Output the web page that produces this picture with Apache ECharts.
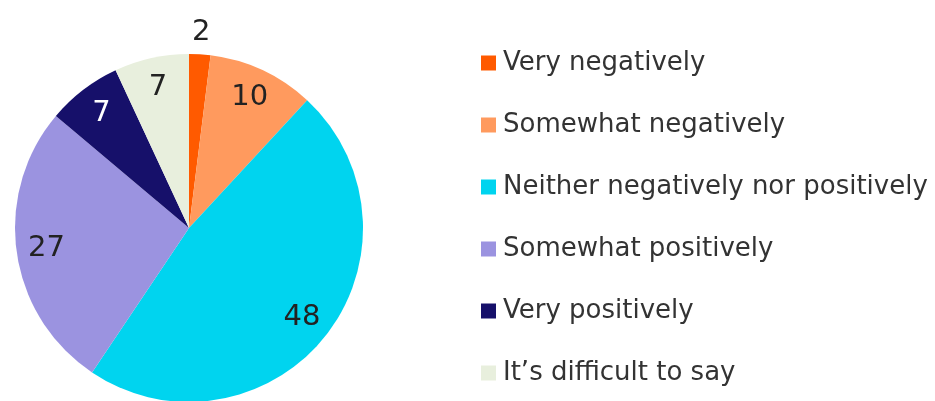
<!DOCTYPE html>
<html>
<head>
<meta charset="utf-8">
<style>html,body{margin:0;padding:0;background:#fff;}#chart{width:935px;height:401px;}</style>
<script src="https://cdn.jsdelivr.net/npm/echarts@6/dist/echarts.min.js"></script>
</head>
<body>
<div id="chart"></div>
<script>
const categories = ["Very negatively", "Somewhat negatively", "Neither negatively nor positively", "Somewhat positively", "Very positively", "It\u2019s difficult to say"];
const values = [2, 10, 48, 27, 7, 7];
const colors = ["#FF5A00", "#FF9A5E", "#00D4EF", "#9B93E0", "#16106A", "#E8EFDD"];
const labelColors = ["#222222", "#222222", "#222222", "#222222", "#FFFFFF", "#222222"];
const outsideLabelIndex = 0;

const FONT = "DejaVu Sans";
const center = [189, 228];
const R = 174;

const mainData = categories.map((name, i) => ({
  name: name,
  value: values[i],
  itemStyle: { color: colors[i] }
}));
const innerLabelData = categories.map((name, i) => ({
  name: name,
  value: values[i],
  label: { show: i !== outsideLabelIndex, color: labelColors[i] }
}));
const outerLabelData = categories.map((name, i) => ({
  name: name,
  value: values[i],
  label: { show: i === outsideLabelIndex, color: labelColors[i] }
}));

const labelSeries = (radius, data) => ({
  type: 'pie',
  center: center,
  radius: radius,
  startAngle: 90,
  clockwise: true,
  silent: true,
  data: data,
  itemStyle: { color: 'rgba(0,0,0,0)', borderWidth: 0 },
  label: { position: 'inner', fontFamily: FONT, fontSize: 29, formatter: '{c}' },
  labelLine: { show: false },
  emphasis: { disabled: true },
  legendHoverLink: false
});

const chart = echarts.init(document.getElementById('chart'), null, { renderer: 'canvas' });
chart.setOption({
  animation: false,
  backgroundColor: '#ffffff',
  legend: {
    type: 'plain',
    orient: 'vertical',
    left: 476,
    top: 45,
    height: 400,
    icon: 'rect',
    itemWidth: 15,
    itemHeight: 15,
    itemGap: 36,
    data: categories,
    textStyle: { fontFamily: FONT, fontSize: 26, color: '#333333', lineHeight: 26, padding: [0, 0, 0, 2] },
    selectedMode: false
  },
  series: [
    {
      type: 'pie',
      name: 'main',
      center: center,
      radius: [0, R],
      startAngle: 90,
      clockwise: true,
      data: mainData,
      label: { show: false },
      labelLine: { show: false },
      itemStyle: { borderWidth: 0 },
      emphasis: { disabled: true }
    },
    labelSeries([R * 0.62, R], innerLabelData),
    labelSeries([R, R + 38], outerLabelData)
  ]
});
</script>
</body>
</html>
